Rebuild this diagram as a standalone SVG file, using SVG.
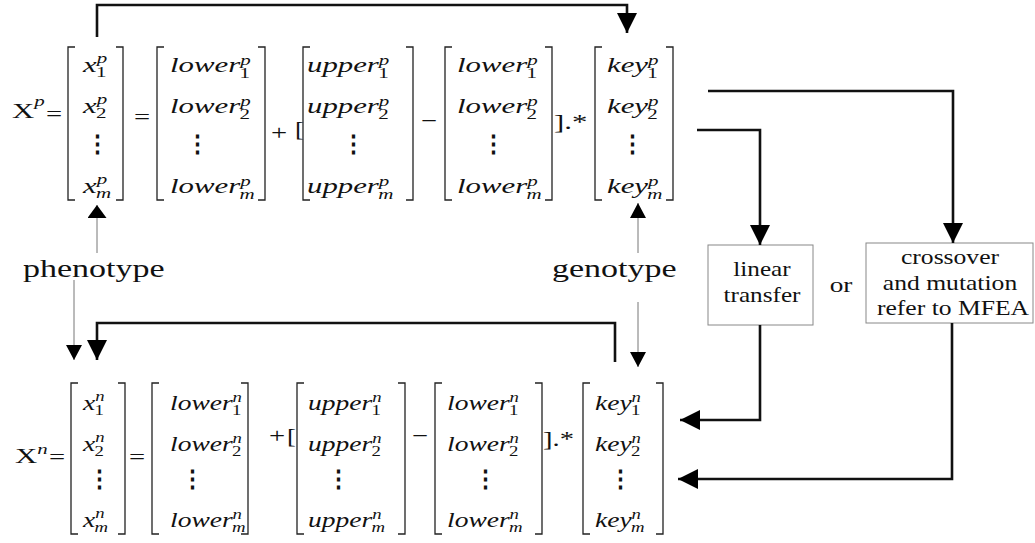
<svg xmlns="http://www.w3.org/2000/svg" width="1035" height="543" viewBox="0 0 1035 543">
<defs>
<style>
.mi{font-family:"Liberation Serif",serif;font-style:italic;font-size:22px;fill:#111}
.rm{font-family:"Liberation Serif",serif;font-size:22px;fill:#111}
.s{font-size:15px}
.up{font-style:normal}
.dots{font-family:"DejaVu Serif",serif;font-size:23px;font-weight:bold;fill:#111;text-anchor:middle}
.lbl{font-family:"Liberation Serif",serif;font-size:25px;fill:#111}
.bx{font-family:"Liberation Serif",serif;font-size:21px;fill:#111;text-anchor:middle}
.br{fill:none;stroke:#222;stroke-width:1.3}
.box{fill:#fff;stroke:#888;stroke-width:1}
.conn{fill:none;stroke:#111;stroke-width:2.6}
.thin{fill:none;stroke:#777;stroke-width:1}
</style>
<marker id="ah" viewBox="0 0 20 20" markerWidth="20" markerHeight="20" refX="20" refY="10" orient="auto" markerUnits="userSpaceOnUse"><path d="M0,0 L20,10 L0,20 z" fill="#000"/></marker>
<marker id="at" viewBox="0 0 15 16" markerWidth="15" markerHeight="16" refX="15" refY="8" orient="auto" markerUnits="userSpaceOnUse"><path d="M0,0 L15,8 L0,16 z" fill="#000"/></marker>
<marker id="aw" viewBox="0 0 13 19" markerWidth="13" markerHeight="19" refX="13" refY="9.5" orient="auto" markerUnits="userSpaceOnUse"><path d="M0,0 L13,9.5 L0,19 z" fill="#000"/></marker>
</defs>
<rect width="1035" height="543" fill="#fff"/>

<!-- top equation -->
<g id="top-eq">
<text class="rm" transform="translate(12 118) scale(1.4 1)">X<tspan class="s" font-style="italic" dy="-12">p</tspan></text>
<text class="rm" transform="translate(46 121) scale(1.3 1)">=</text>
<path class="br" d="M75,47 H68 V200 H75 M116,47 H123 V200 H116"/>
<text class="mi" transform="translate(83 72) scale(1.4 1)">x<tspan class="s" dy="-9">p</tspan><tspan class="s up" dx="-8" dy="14">1</tspan></text>
<text class="mi" transform="translate(83 113) scale(1.4 1)">x<tspan class="s" dy="-9">p</tspan><tspan class="s up" dx="-8" dy="14">2</tspan></text>
<text class="dots" x="97" y="151">⋮</text>
<text class="mi" transform="translate(83 193) scale(1.4 1)">x<tspan class="s" dy="-9">p</tspan><tspan class="s" dx="-8" dy="14">m</tspan></text>
<text class="rm" transform="translate(134 124) scale(1.3 1)">=</text>
<path class="br" d="M164,47 H157 V200 H164 M258,47 H265 V200 H258"/>
<text class="mi" transform="translate(170 72) scale(1.4 1)">lower<tspan class="s" dy="-7">p</tspan><tspan class="s up" dx="-8" dy="13">1</tspan></text>
<text class="mi" transform="translate(170 113) scale(1.4 1)">lower<tspan class="s" dy="-7">p</tspan><tspan class="s up" dx="-8" dy="13">2</tspan></text>
<text class="dots" x="197" y="151">⋮</text>
<text class="mi" transform="translate(170 193) scale(1.4 1)">lower<tspan class="s" dy="-7">p</tspan><tspan class="s" dx="-8" dy="13">m</tspan></text>
<text class="rm" transform="translate(271 140) scale(1.3 1)">+</text>
<text class="rm" font-size="24" transform="translate(295 136) scale(1.2 1)">[</text>
<path class="br" d="M310,47 H303 V200 H310 M406,47 H413 V200 H406"/>
<text class="mi" transform="translate(307 72) scale(1.4 1)">upper<tspan class="s" dy="-7">p</tspan><tspan class="s up" dx="-8" dy="13">1</tspan></text>
<text class="mi" transform="translate(307 113) scale(1.4 1)">upper<tspan class="s" dy="-7">p</tspan><tspan class="s up" dx="-8" dy="13">2</tspan></text>
<text class="dots" x="353" y="151">⋮</text>
<text class="mi" transform="translate(307 193) scale(1.4 1)">upper<tspan class="s" dy="-7">p</tspan><tspan class="s" dx="-8" dy="13">m</tspan></text>
<text class="rm" transform="translate(421 128) scale(1.3 1)">−</text>
<path class="br" d="M452,47 H445 V200 H452 M545,47 H552 V200 H545"/>
<text class="mi" transform="translate(457 72) scale(1.4 1)">lower<tspan class="s" dy="-7">p</tspan><tspan class="s up" dx="-8" dy="13">1</tspan></text>
<text class="mi" transform="translate(457 113) scale(1.4 1)">lower<tspan class="s" dy="-7">p</tspan><tspan class="s up" dx="-8" dy="13">2</tspan></text>
<text class="dots" x="493" y="151">⋮</text>
<text class="mi" transform="translate(457 193) scale(1.4 1)">lower<tspan class="s" dy="-7">p</tspan><tspan class="s" dx="-8" dy="13">m</tspan></text>
<text class="rm" transform="translate(554 129) scale(1.4 1)">].*</text>
<path class="br" d="M602,47 H595 V200 H602 M666,47 H673 V200 H666"/>
<text class="mi" transform="translate(607 72) scale(1.4 1)">key<tspan class="s" dy="-7">p</tspan><tspan class="s up" dx="-8" dy="13">1</tspan></text>
<text class="mi" transform="translate(607 113) scale(1.4 1)">key<tspan class="s" dy="-7">p</tspan><tspan class="s up" dx="-8" dy="13">2</tspan></text>
<text class="dots" x="632" y="151">⋮</text>
<text class="mi" transform="translate(607 193) scale(1.4 1)">key<tspan class="s" dy="-7">p</tspan><tspan class="s" dx="-8" dy="13">m</tspan></text>
</g>

<!-- bottom equation -->
<g id="bottom-eq">
<text class="rm" transform="translate(15 463) scale(1.4 1)">X<tspan class="s" font-style="italic" dy="-9">n</tspan></text>
<text class="rm" transform="translate(49 464) scale(1.3 1)">=</text>
<path class="br" d="M78,383 H71 V534 H78 M118,383 H125 V534 H118"/>
<text class="mi" transform="translate(83 410) scale(1.25 1)">x<tspan class="s" dy="-9">n</tspan><tspan class="s up" dx="-8" dy="14">1</tspan></text>
<text class="mi" transform="translate(83 451) scale(1.25 1)">x<tspan class="s" dy="-9">n</tspan><tspan class="s up" dx="-8" dy="14">2</tspan></text>
<text class="dots" x="99" y="486">⋮</text>
<text class="mi" transform="translate(83 527) scale(1.25 1)">x<tspan class="s" dy="-9">n</tspan><tspan class="s" dx="-8" dy="14">m</tspan></text>
<text class="rm" transform="translate(129 464) scale(1.3 1)">=</text>
<path class="br" d="M159,383 H152 V534 H159 M241,383 H248 V534 H241"/>
<text class="mi" transform="translate(170 410) scale(1.25 1)">lower<tspan class="s" dy="-8">n</tspan><tspan class="s up" dx="-8" dy="13">1</tspan></text>
<text class="mi" transform="translate(170 451) scale(1.25 1)">lower<tspan class="s" dy="-8">n</tspan><tspan class="s up" dx="-8" dy="13">2</tspan></text>
<text class="dots" x="192" y="486">⋮</text>
<text class="mi" transform="translate(170 527) scale(1.25 1)">lower<tspan class="s" dy="-8">n</tspan><tspan class="s" dx="-8" dy="13">m</tspan></text>
<text class="rm" transform="translate(269 443) scale(1.3 1)">+</text>
<text class="rm" font-size="24" transform="translate(287 443) scale(1.2 1)">[</text>
<path class="br" d="M304,383 H297 V534 H304 M398,383 H405 V534 H398"/>
<text class="mi" transform="translate(308 410) scale(1.25 1)">upper<tspan class="s" dy="-8">n</tspan><tspan class="s up" dx="-8" dy="13">1</tspan></text>
<text class="mi" transform="translate(308 451) scale(1.25 1)">upper<tspan class="s" dy="-8">n</tspan><tspan class="s up" dx="-8" dy="13">2</tspan></text>
<text class="dots" x="338" y="486">⋮</text>
<text class="mi" transform="translate(308 527) scale(1.25 1)">upper<tspan class="s" dy="-8">n</tspan><tspan class="s" dx="-8" dy="13">m</tspan></text>
<text class="rm" transform="translate(412 443) scale(1.3 1)">−</text>
<path class="br" d="M442,383 H435 V534 H442 M535,383 H542 V534 H535"/>
<text class="mi" transform="translate(447 410) scale(1.25 1)">lower<tspan class="s" dy="-8">n</tspan><tspan class="s up" dx="-8" dy="13">1</tspan></text>
<text class="mi" transform="translate(447 451) scale(1.25 1)">lower<tspan class="s" dy="-8">n</tspan><tspan class="s up" dx="-8" dy="13">2</tspan></text>
<text class="dots" x="485" y="486">⋮</text>
<text class="mi" transform="translate(447 527) scale(1.25 1)">lower<tspan class="s" dy="-8">n</tspan><tspan class="s" dx="-8" dy="13">m</tspan></text>
<text class="rm" transform="translate(543 446) scale(1.3 1)">].*</text>
<path class="br" d="M590,383 H583 V534 H590 M656,383 H663 V534 H656"/>
<text class="mi" transform="translate(595 410) scale(1.25 1)">key<tspan class="s" dy="-8">n</tspan><tspan class="s up" dx="-8" dy="13">1</tspan></text>
<text class="mi" transform="translate(595 451) scale(1.25 1)">key<tspan class="s" dy="-8">n</tspan><tspan class="s up" dx="-8" dy="13">2</tspan></text>
<text class="dots" x="620" y="486">⋮</text>
<text class="mi" transform="translate(595 527) scale(1.25 1)">key<tspan class="s" dy="-8">n</tspan><tspan class="s" dx="-8" dy="13">m</tspan></text>
</g>

<g id="phenotype"><text class="lbl" transform="translate(23 277) scale(1.36 1)">phenotype</text></g>
<g id="genotype"><text class="lbl" transform="translate(552 277) scale(1.36 1)">genotype</text></g>

<g id="linear-transfer">
<rect class="box" x="708" y="245" width="105" height="80"/>
<text class="bx" transform="translate(762 276) scale(1.2 1)">linear</text>
<text class="bx" transform="translate(762 302) scale(1.2 1)">transfer</text>
</g>
<g id="or"><text class="bx" transform="translate(841 292) scale(1.3 1)">or</text></g>
<g id="crossover">
<rect class="box" x="866" y="243" width="167" height="80"/>
<text class="bx" transform="translate(950 264) scale(1.22 1)">crossover</text>
<text class="bx" transform="translate(950 290) scale(1.22 1)">and mutation</text>
<text class="bx" transform="translate(953 315) scale(1.22 1)">refer to MFEA</text>
</g>

<g id="connectors">
<path class="conn" d="M97,37 V5 H627 V33" marker-end="url(#ah)"/>
<path class="conn" d="M615,362 V323 H97 V360" marker-end="url(#ah)"/>
<path class="conn" d="M708,91 H953 V243" marker-end="url(#ah)"/>
<path class="conn" d="M697,130 H760 V245" marker-end="url(#ah)"/>
<path class="conn" d="M760,325 V420 H680" marker-end="url(#ah)"/>
<path class="conn" d="M952,323 V479 H678" marker-end="url(#ah)"/>
<path class="thin" d="M97,253 V205" marker-end="url(#aw)"/>
<path class="thin" d="M638,253 V203" marker-end="url(#at)"/>
<path class="thin" d="M74,280 V360" marker-end="url(#at)"/>
<path class="thin" d="M638,302 V367" marker-end="url(#at)"/>
</g>
</svg>
